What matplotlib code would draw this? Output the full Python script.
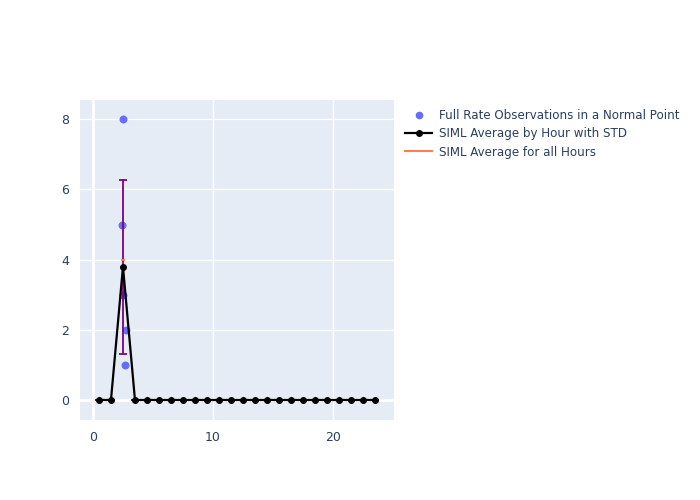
import numpy as np
import matplotlib.pyplot as plt
from matplotlib.lines import Line2D

# data
obs_hour = [2.47, 2.39, 2.52, 2.72, 2.69]
obs_value = [8, 5, 3, 2, 1]

hours = [h + 0.5 for h in range(24)]
hour_mean = [0, 0, 3.8] + [0] * 21
hour_std = [0, 0, 2.48] + [0] * 21

all_hours_x = [2.4, 2.6]
all_hours_avg = [4.0, 4.0]

TEXT = "#2a3f5f"

fig = plt.figure(figsize=(7, 5), dpi=100)
ax = fig.add_axes([80 / 700, 80 / 500, 314 / 700, 320 / 500])
ax.set_facecolor("#E5ECF6")
for s in ax.spines.values():
    s.set_visible(False)

ax.set_xlim(-1.08, 25.08)
ax.set_ylim(-0.57, 8.55)
ax.set_xticks([0, 10, 20])
ax.set_yticks([0, 2, 4, 6, 8])
ax.grid(True, color="white", linewidth=1)
ax.axhline(0, color="white", linewidth=2, zorder=0.5)
ax.axvline(0, color="white", linewidth=2, zorder=0.5)
ax.set_axisbelow(True)
ax.tick_params(length=0, colors=TEXT, labelsize=9, pad=8)

ax.scatter(obs_hour, obs_value, s=22, color="#636efa", zorder=2)
ax.errorbar(hours, hour_mean, yerr=hour_std, color="black", ecolor="purple",
            elinewidth=1.3, capsize=3, capthick=1.3, marker="o", markersize=4,
            linewidth=1.6, zorder=3)
ax.plot(all_hours_x, all_hours_avg, color="#ff7f50", linewidth=1.5, zorder=4)

handles = [
    Line2D([], [], linestyle="none", marker="o", markersize=4.5, color="#636efa"),
    Line2D([], [], color="black", marker="o", markersize=4, linewidth=1.6),
    Line2D([], [], color="#ff7f50", linewidth=1.5),
]
labels = ["Full Rate Observations in a Normal Point",
          "SIML Average by Hour with STD",
          "SIML Average for all Hours"]
fig.legend(handles, labels, loc="upper left", bbox_to_anchor=(400 / 700, 1 - 104 / 500),
           frameon=False, fontsize=8.6, labelcolor=TEXT, handlelength=2.3,
           handletextpad=0.6, labelspacing=0.45, borderaxespad=0)

fig.savefig("out.png", dpi=100)
